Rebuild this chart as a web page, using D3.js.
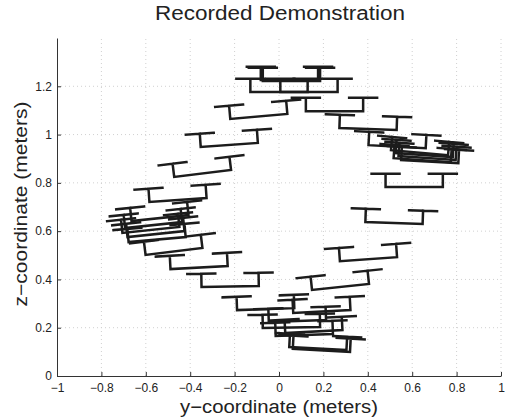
<!DOCTYPE html>
<meta charset="utf-8">
<style>
  body { margin: 0; background: #fff; font-family: "Liberation Sans", Arial, Helvetica, sans-serif; }
  .tick text { fill: #222; }
</style>
<body>
<svg></svg>
<script src="https://d3js.org/d3.v7.min.js"></script>
<script>

// gripper poses along the demonstration: base-centre position and tilt (deg)
var yPos = [0.047, 0.056, 0.000, 0.135, 0.250, 0.401, 0.532, 0.633, 0.654, 0.667, 0.679, 0.645,
            0.609, 0.518, 0.403, 0.277, 0.193,
            -0.060, 0.083, 0.056, 0.157, 0.114, 0.175, 0.191,
            -0.473, -0.360, -0.220,
            -0.091, -0.224, -0.344, -0.455,
            -0.536, -0.565, -0.577, -0.554, -0.549];
var zPos = [1.226, 1.222, 1.176, 1.176, 1.097, 1.023, 0.950, 0.925, 0.915, 0.903, 0.888, 0.894,
            0.783, 0.634, 0.484, 0.369, 0.267,
            0.277, 0.228, 0.201, 0.184, 0.170, 0.114, 0.106,
            0.516, 0.449, 0.371,
            1.075, 0.957, 0.839, 0.729,
            0.654, 0.625, 0.605, 0.588, 0.565];
var tilt = [0, 0, 0, 0, 0, 2, 3, 5, 4, 4, 3, 4,
            0, 2, -4, -6, -3,
            -2, -2, -1, -3, -2, 3, 3,
            -7, -3, -1,
            -5, -4, -7, -4,
            -6, -6, -6, -6, -5];

var xTicks = [-1, -0.8, -0.6, -0.4, -0.2, 0, 0.2, 0.4, 0.6, 0.8, 1];
var yTicks = [0, 0.2, 0.4, 0.6, 0.8, 1, 1.2];

var width = 505, height = 420;
var margin = {left: 57, right: 4, top: 38, bottom: 44};

var svg = d3.select('svg').attr('width', width).attr('height', height);

var x = d3.scaleLinear().domain([-1, 1]).range([margin.left, width - margin.right]);
var y = d3.scaleLinear().domain([0, 1.4]).range([height - margin.bottom, margin.top]);

var fmt = function (d) { return d3.format('')(d).replace('-', '\u2212'); };

// dotted grid
svg.append('g').selectAll('line').data(xTicks.slice(1)).enter().append('line')
    .attr('x1', d => x(d)).attr('x2', d => x(d))
    .attr('y1', y(0)).attr('y2', y(1.4))
    .attr('stroke', '#d0d0d0').attr('stroke-width', 1).attr('stroke-dasharray', '1,3');
svg.append('g').selectAll('line').data(yTicks.slice(1)).enter().append('line')
    .attr('y1', d => y(d)).attr('y2', d => y(d))
    .attr('x1', x(-1)).attr('x2', x(1))
    .attr('stroke', '#d0d0d0').attr('stroke-width', 1).attr('stroke-dasharray', '1,3');

// axes, ticks pointing inward
var xAxis = svg.append('g').attr('transform', 'translate(0,' + y(0) + ')')
    .call(d3.axisBottom(x).tickValues(xTicks).tickFormat(fmt).tickSizeInner(-4).tickSizeOuter(0).tickPadding(7));
var yAxis = svg.append('g').attr('transform', 'translate(' + x(-1) + ',0)')
    .call(d3.axisLeft(y).tickValues(yTicks).tickFormat(fmt).tickSizeInner(-4).tickSizeOuter(0).tickPadding(5));
[xAxis, yAxis].forEach(function (a) {
    a.selectAll('text').style('font-size', '12px').style('font-family', '"Liberation Sans", Arial, sans-serif');
    a.select('.domain').attr('stroke', '#333');
    a.selectAll('.tick line').attr('stroke', '#333');
});

// gripper glyph (data-unit dimensions)
var halfSep = 0.129, fingerHalf = 0.063, stemH = 0.055;
var kx = x(1) - x(0), kz = y(0) - y(1);
var s = halfSep * kx, f = fingerHalf * kx, h = stemH * kz;
var glyph = 'M' + (-s - f) + ',' + (-h) + 'L' + (-s + f) + ',' + (-h) +
            'M' + (-s) + ',' + (-h) + 'L' + (-s) + ',0L' + s + ',0L' + s + ',' + (-h) +
            'M' + (s - f) + ',' + (-h) + 'L' + (s + f) + ',' + (-h);

svg.append('g').selectAll('path').data(d3.range(yPos.length)).enter().append('path')
    .attr('d', glyph)
    .attr('transform', i => 'translate(' + x(yPos[i]) + ',' + y(zPos[i]) + ')rotate(' + tilt[i] + ')')
    .attr('fill', 'none')
    .attr('stroke', '#1c1c1c')
    .attr('stroke-width', 2.5)
    .attr('stroke-linecap', 'square');

// titles
svg.append('text').attr('x', 280).attr('y', 20)
    .attr('text-anchor', 'middle').style('font-size', '20px').attr('fill', '#222')
    .attr('textLength', 250).attr('lengthAdjust', 'spacingAndGlyphs')
    .text('Recorded Demonstration');
svg.append('text').attr('x', 279).attr('y', 413)
    .attr('text-anchor', 'middle').style('font-size', '18px').attr('fill', '#222')
    .attr('textLength', 198).attr('lengthAdjust', 'spacingAndGlyphs')
    .text('y\u2212coordinate (meters)');
svg.append('text').attr('transform', 'translate(27,204)rotate(-90)')
    .attr('text-anchor', 'middle').style('font-size', '18px').attr('fill', '#222')
    .attr('textLength', 205).attr('lengthAdjust', 'spacingAndGlyphs')
    .text('z\u2212coordinate (meters)');

</script>
</body>
